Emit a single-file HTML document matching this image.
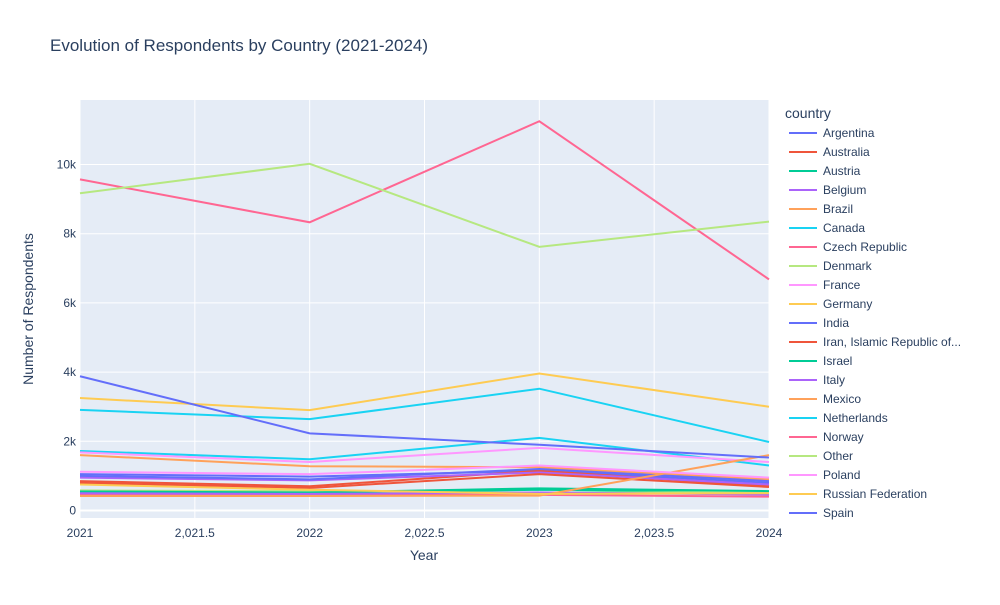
<!DOCTYPE html>
<html><head><meta charset="utf-8"><style>
body{margin:0;background:#fff;font-family:"Liberation Sans",Arial,sans-serif;}
svg text{font-family:"Liberation Sans",Arial,sans-serif;fill:#2a3f5f;}
</style></head><body>
<svg id="chart" width="1000" height="600">
<text x="50" y="51" font-size="17">Evolution of Respondents by Country (2021-2024)</text>
<rect x="80" y="100" width="689" height="418" fill="#e5ecf6"/>
<g id="grid"></g><g id="lines"></g><g id="ticks"></g>
<text x="424" y="560" font-size="14" text-anchor="middle">Year</text>
<text transform="translate(33,309) rotate(-90)" font-size="14" text-anchor="middle">Number of Respondents</text>
<g id="legend"><text x="785" y="118" font-size="14">country</text></g>
</svg>
<script>
const years=[2021,2022,2023,2024];
const countries=["Argentina","Australia","Austria","Belgium","Brazil","Canada","Czech Republic","Denmark","France","Germany","India","Iran, Islamic Republic of...","Israel","Italy","Mexico","Netherlands","Norway","Other","Poland","Russian Federation","Spain"];
const values=[
[1050,980,1150,800],[850,700,1150,700],[520,500,600,520],[950,870,1100,750],
[1600,1280,1250,900],[1720,1480,2100,1300],[450,450,450,400],[580,560,500,540],
[1680,1400,1810,1400],[3250,2900,3960,3000],[1000,900,1200,850],[800,650,1050,680],
[550,520,640,560],[500,480,520,460],[420,420,430,1600],[2910,2640,3520,1980],
[9570,8330,11250,6680],[9170,10020,7620,8350],[1120,1050,1300,950],[750,600,480,500],
[3880,2230,1900,1530]];
const xTicks=[2021,2021.5,2022,2022.5,2023,2023.5,2024];
const xTickLabels=["2021","2,021.5","2022","2,022.5","2023","2,023.5","2024"];
const yTicks=[0,2000,4000,6000,8000,10000];
const yTickLabels=["0","2k","4k","6k","8k","10k"];
const colors=["#636efa","#EF553B","#00cc96","#ab63fa","#FFA15A","#19d3f3","#FF6692","#B6E880","#FF97FF","#FECB52"];
const NS="http://www.w3.org/2000/svg";
const X=v=>80+(v-2021)/3*689;
const Y=v=>510.5-v*0.0346;
function mk(t,a,p){const e=document.createElementNS(NS,t);for(const k in a)e.setAttribute(k,a[k]);p.appendChild(e);return e;}
const grid=document.getElementById('grid'),ticks=document.getElementById('ticks');
xTicks.forEach((t,i)=>{
 const l=mk('line',{x1:X(t),x2:X(t),y1:100,y2:518,stroke:'#fff','stroke-width':1},grid);
 
 
 const tx=mk('text',{x:X(t),y:537,'font-size':12,'text-anchor':'middle'},ticks);tx.textContent=xTickLabels[i];
 
 
});
yTicks.forEach((t,i)=>{
 const l=mk('line',{x1:80,x2:769,y1:Y(t),y2:Y(t),stroke:'#fff','stroke-width':t===0?2:1},grid);
 
 
 const tx=mk('text',{x:76,y:Y(t)+4,'font-size':12,'text-anchor':'end'},ticks);tx.textContent=yTickLabels[i];
 
 
});
const lines=document.getElementById('lines'),legend=document.getElementById('legend');
countries.forEach((c,i)=>{
 const col=colors[i%10];
 const pts=values[i].map((v,j)=>X(years[j])+','+Y(v)).join(' ');
 const p=mk('polyline',{points:pts,fill:'none',stroke:col,'stroke-width':2},lines);
 
 
 const g=mk('g',{},legend);
 
 
 const y=133+i*19;
 mk('line',{x1:789,x2:817,y1:y,y2:y,stroke:col,'stroke-width':2},g);
 const t=mk('text',{x:823,y:y+4,'font-size':12},g);t.textContent=c;
});
</script>
</body></html>
